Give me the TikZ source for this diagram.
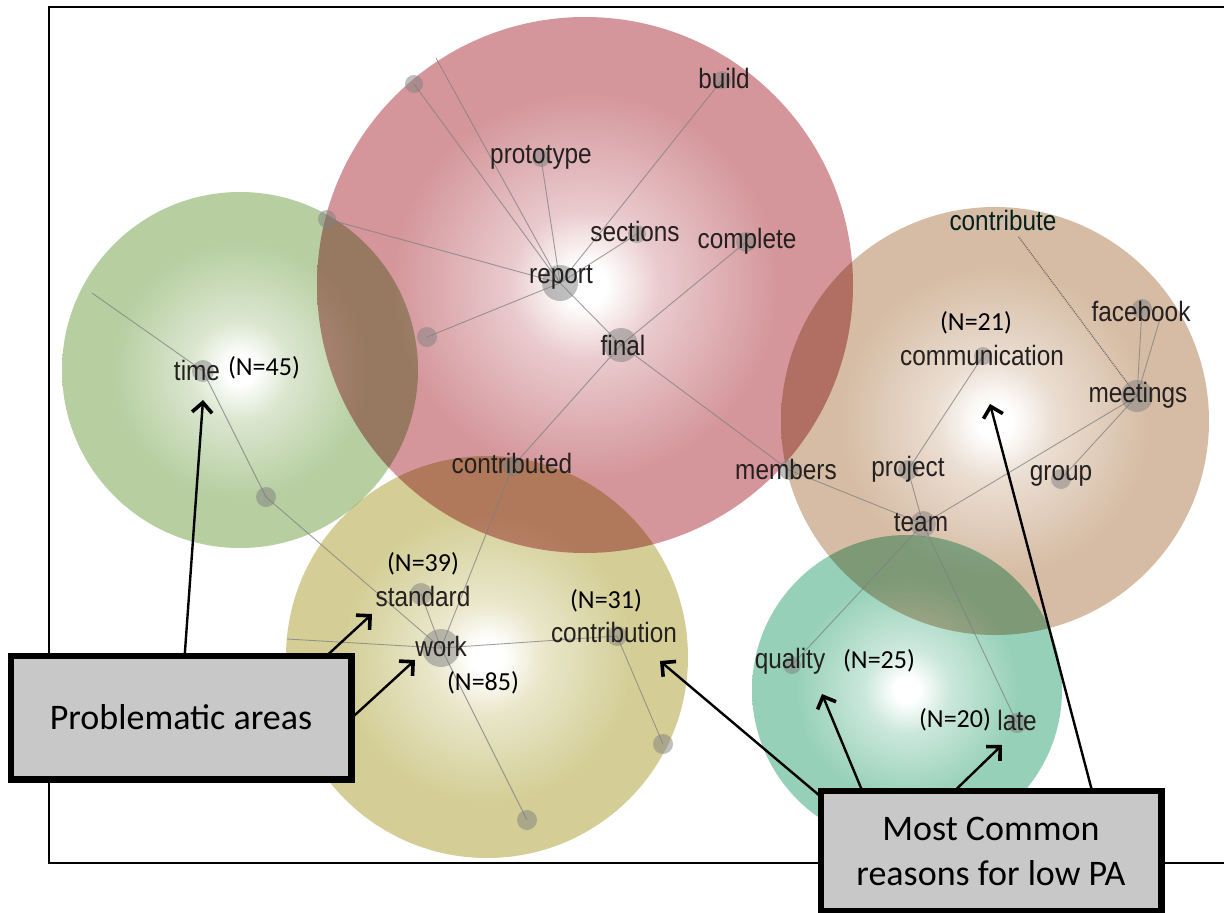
\documentclass[tikz,border=0pt]{standalone}
\usepackage{fontspec}
\usetikzlibrary{arrows.meta}
\newfontfamily\lblfont[FakeStretch=0.87]{Liberation Sans}
\newfontfamily\calfont{Carlito}
\definecolor{redc}{RGB}{212,150,155}
\definecolor{greenc}{RGB}{182,206,160}
\definecolor{yellowc}{RGB}{212,206,150}
\definecolor{tanc}{RGB}{214,188,164}
\definecolor{tealc}{RGB}{150,208,184}
\definecolor{boxgray}{RGB}{200,200,200}
\definecolor{lbltext}{RGB}{36,32,32}
\pgfdeclareradialshading{redglow}{\pgfpoint{0bp}{0bp}}{color(0bp)=(white); color(2bp)=(white); color(7bp)=(white!50!redc); color(18bp)=(redc); color(50bp)=(redc)}
\pgfdeclareradialshading{greenglow}{\pgfpoint{0bp}{0bp}}{color(0bp)=(white); color(2bp)=(white); color(7bp)=(white!50!greenc); color(18bp)=(greenc); color(50bp)=(greenc)}
\pgfdeclareradialshading{yellowglow}{\pgfpoint{0bp}{0bp}}{color(0bp)=(white); color(2bp)=(white); color(7bp)=(white!50!yellowc); color(18bp)=(yellowc); color(50bp)=(yellowc)}
\pgfdeclareradialshading{tanglow}{\pgfpoint{0bp}{0bp}}{color(0bp)=(white); color(2bp)=(white); color(7bp)=(white!50!tanc); color(18bp)=(tanc); color(50bp)=(tanc)}
\pgfdeclareradialshading{tealglow}{\pgfpoint{0bp}{0bp}}{color(0bp)=(white); color(2bp)=(white); color(7bp)=(white!50!tealc); color(18bp)=(tealc); color(50bp)=(tealc)}
\tikzset{
  edge/.style={draw=black!50, line width=0.9pt, opacity=0.75},
  dot/.style={circle, fill=black!50, fill opacity=0.5, draw=none, inner sep=0pt, minimum size=#1},
  lbl/.style={font=\lblfont\fontsize{28}{28}\selectfont, text=lbltext, inner sep=0pt},
  nlbl/.style={font=\calfont\fontsize{26}{26}\selectfont, text=black, inner sep=0pt},
  callout/.style={draw=black, line width=4.5pt, fill=boxgray, inner sep=0pt,
    font=\calfont\fontsize{36}{45}\selectfont, align=center},
  pointer/.style={draw=black, line width=2.4pt,
    -{Straight Barb[length=10pt, width=20pt, line width=3.6pt]}}
}
\begin{document}
\begin{tikzpicture}[x=1pt, y=-1pt]
\useasboundingbox (0,0) rectangle (1224,913);
\fill[white] (0,0) rectangle (1224,913);
% frame
\draw[line width=1.8pt] (1224,7) -- (49,7) -- (49,863) -- (1224,863);
% cluster circles
\begin{scope}[blend group=multiply]
  \shade[shading=redglow] (585,285) circle (268);
  \shade[shading=greenglow] (240,370) circle (178);
  \shade[shading=yellowglow] (487,657) circle (201);
  \shade[shading=tanglow] (995,421) circle (214);
  \shade[shading=tealglow] (907,690) circle (155);
\end{scope}
% coordinates of graph nodes
\coordinate (report) at (560,283);
\coordinate (final) at (621,345);
\coordinate (prototype) at (541,158);
\coordinate (build) at (722,80);
\coordinate (sections) at (637,234);
\coordinate (complete) at (746,242);
\coordinate (u1) at (414,84);
\coordinate (u1b) at (436,58);
\coordinate (u2) at (327,219);
\coordinate (u3) at (427,337);
\coordinate (contributed) at (513,466);
\coordinate (members) at (789,470);
\coordinate (time) at (203,371);
\coordinate (timefree) at (92,293);
\coordinate (u4) at (266,497);
\coordinate (work) at (441,648);
\coordinate (standard) at (421,594);
\coordinate (contribution) at (617,636);
\coordinate (workfree) at (287,639);
\coordinate (u5) at (527,820);
\coordinate (u6) at (663,744);
\coordinate (contribute) at (1018,236);
\coordinate (facebook) at (1142,309);
\coordinate (fbfree) at (1163,309);
\coordinate (communication) at (983,356);
\coordinate (meetings) at (1137,396);
\coordinate (project) at (908,470);
\coordinate (group) at (1061,479);
\coordinate (team) at (923,524);
\coordinate (quality) at (792,665);
\coordinate (late) at (1017,723);
% edges
\draw[edge] (report) -- (prototype);
\draw[edge] (report) -- (u1);
\draw[edge] (report) -- (u1b);
\draw[edge] (report) -- (u2);
\draw[edge] (report) -- (u3);
\draw[edge] (report) -- (sections);
\draw[edge] (report) -- (build);
\draw[edge] (report) -- (final);
\draw[edge] (final) -- (complete);
\draw[edge] (final) -- (contributed);
\draw[edge] (final) -- (members);
\draw[edge] (contributed) -- (work);
\draw[edge] (timefree) -- (time);
\draw[edge] (time) -- (u4);
\draw[edge] (u4) -- (work);
\draw[edge] (standard) -- (work);
\draw[edge] (work) -- (contribution);
\draw[edge] (work) -- (workfree);
\draw[edge] (work) -- (u5);
\draw[edge] (contribution) -- (u6);
\draw[edge] (members) -- (team);
\draw[edge] (communication) -- (project);
\draw[edge] (project) -- (team);
\draw[edge] (team) -- (meetings);
\draw[edge] (meetings) -- (group);
\draw[edge] (meetings) -- (facebook);
\draw[edge] (meetings) -- (fbfree);
\draw[edge, draw=black!70, densely dotted, line width=1.3pt] (meetings) -- (contribute);
\draw[edge] (team) -- (quality);
\draw[edge] (team) -- (late);
% dots
\node[dot=36pt] (d-report) at (report) {};
\node[dot=34pt] (d-final) at (final) {};
\node[dot=18pt] (d-prototype) at (prototype) {};
\node[dot=18pt] (d-build) at (build) {};
\node[dot=18pt] (d-sections) at (sections) {};
\node[dot=20pt] (d-complete) at (complete) {};
\node[dot=18pt] (d-u1) at (u1) {};
\node[dot=18pt] (d-u2) at (u2) {};
\node[dot=20pt] (d-u3) at (u3) {};
\node[dot=20pt] (d-contributed) at (contributed) {};
\node[dot=20pt] (d-members) at (members) {};
\node[dot=22pt] (d-time) at (time) {};
\node[dot=20pt] (d-u4) at (u4) {};
\node[dot=38pt] (d-work) at (work) {};
\node[dot=22pt] (d-standard) at (standard) {};
\node[dot=20pt] (d-contribution) at (contribution) {};
\node[dot=20pt] (d-u5) at (u5) {};
\node[dot=20pt] (d-u6) at (u6) {};
\node[dot=20pt] (d-facebook) at (facebook) {};
\node[dot=18pt] (d-communication) at (communication) {};
\node[dot=32pt] (d-meetings) at (meetings) {};
\node[dot=20pt] (d-project) at (project) {};
\node[dot=20pt] (d-group) at (group) {};
\node[dot=26pt] (d-team) at (team) {};
\node[dot=18pt] (d-quality) at (quality) {};
\node[dot=20pt] (d-late) at (late) {};
% labels
\node[lbl] (t-report) at (561,277) {report};
\node[lbl] (t-final) at (623,345) {final};
\node[lbl] (t-prototype) at (541,157) {prototype};
\node[lbl] (t-build) at (724,78) {build};
\node[lbl] (t-sections) at (635,231) {sections};
\node[lbl] (t-complete) at (747,241) {complete};
\node[lbl] (t-contributed) at (512,463) {contributed};
\node[lbl] (t-members) at (786,469) {members};
\node[lbl] (t-time) at (197,370) {time};
\node[lbl] (t-standard) at (423,596) {standard};
\node[lbl] (t-work) at (441,646) {work};
\node[lbl] (t-contribution) at (614,632) {contribution};
\node[lbl, text=black!75!teal] (t-contribute) at (1003,220) {contribute};
\node[lbl] (t-facebook) at (1141,311) {facebook};
\node[lbl] (t-communication) at (982,355) {communication};
\node[lbl] (t-meetings) at (1138,395) {meetings};
\node[lbl] (t-project) at (908,469) {project};
\node[lbl] (t-group) at (1061,476) {group};
\node[lbl] (t-team) at (921,523) {team};
\node[lbl] (t-quality) at (790,661) {quality};
\node[lbl] (t-late) at (1017,720) {late};
% counts
\node[nlbl] (n45) at (264,368) {(N=45)};
\node[nlbl] (n39) at (423,564) {(N=39)};
\node[nlbl] (n85) at (483,683) {(N=85)};
\node[nlbl] (n31) at (606,601) {(N=31)};
\node[nlbl] (n21) at (976,323) {(N=21)};
\node[nlbl] (n25) at (879,661) {(N=25)};
\node[nlbl] (n20) at (955,720) {(N=20)};
% pointer targets
\coordinate (p-time) at (203,400);
\coordinate (p-standard) at (372,614);
\coordinate (p-work) at (415,660);
\coordinate (p-contribution) at (660,661);
\coordinate (p-quality) at (822,694);
\coordinate (p-late) at (1002,745);
\coordinate (p-communication) at (990,404);
% callouts
\node[callout, minimum width=338pt, minimum height=121pt] (prob) at (181,717.5) {Problematic areas};
\node[callout, minimum width=338pt, minimum height=118pt] (most) at (991,851) {Most Common\\reasons for low PA};
\draw[pointer] ([xshift=175pt]prob.north west) -- (p-time);
\draw[pointer] ([xshift=318pt]prob.north west) -- (p-standard);
\draw[pointer] (prob.east) -- (p-work);
\draw[pointer] ([yshift=-6pt]most.north west) -- (p-contribution);
\draw[pointer] ([xshift=42pt]most.north west) -- (p-quality);
\draw[pointer] ([xshift=136pt]most.north west) -- (p-late);
\draw[pointer] ([xshift=272pt]most.north west) -- (p-communication);
% box borders on top of pointer starts
\draw[line width=4.5pt] (prob.north west) rectangle (prob.south east);
\draw[line width=4.5pt] (most.north west) rectangle (most.south east);
\end{tikzpicture}
\end{document}
